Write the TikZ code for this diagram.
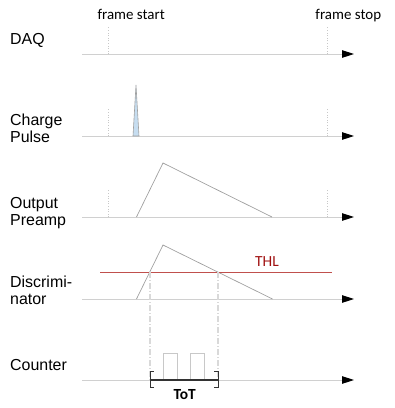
\documentclass[tikz,border=0pt]{standalone}
\usepackage{fontspec}
\setmainfont{Liberation Sans}
\newfontfamily\calfont{Carlito}
\usetikzlibrary{arrows.meta}
\definecolor{axisgrey}{HTML}{D0D0D0}
\definecolor{siggrey}{HTML}{A0A0A0}
\definecolor{dotgrey}{HTML}{C8C8C8}
\definecolor{thlred}{HTML}{C0504D}
\definecolor{thltext}{HTML}{A01010}
\definecolor{pulseblue}{HTML}{C6DDF0}
\begin{document}
\begin{tikzpicture}[x=1bp,y=-1bp,
  rowlabel/.style={anchor=base west,inner sep=0pt,font=\fontsize{16}{17}\selectfont,align=left},
  axisline/.style={draw=axisgrey,line width=0.9bp,-{Triangle[length=12bp,width=7.5bp,fill=black,color=black]}},
  framemark/.style={draw=dotgrey,line width=0.6bp,dotted},
  signal/.style={draw=siggrey,line width=0.7bp},
  guide/.style={draw=axisgrey!80,line width=1.1bp,dash pattern=on 6bp off 2bp on 1bp off 2bp},
  toplabel/.style={anchor=base,inner sep=0pt,font=\calfont\fontsize{15}{17}\selectfont}]
\useasboundingbox (0,0) rectangle (395,408);
% axes
\foreach \n/\y in {daq/54,chg/136,pre/217,dis/299,cnt/380}{
  \coordinate (\n L) at (82,\y);
  \coordinate (\n R) at (354,\y);
  \draw[axisline] (\n L) -- (\n R);
}
% row labels (base anchor = baseline of the last line)
\node[rowlabel] (ldaq) at (10,44.8) {DAQ};
\node[rowlabel] (lchg) at (10,142.7) {Charge\\Pulse};
\node[rowlabel] (lpre) at (10,225.3) {Output\\Preamp};
\node[rowlabel] (ldis) at (10,304.7) {Discrimi-\\nator};
\node[rowlabel] (lcnt) at (10,370) {Counter};
% frame labels
\node[toplabel] (fstart) at (131.2,19) {frame start};
\node[toplabel] (fstop) at (348.3,19) {frame stop};
% frame marks
\foreach \y in {54,136,217}{
  \draw[framemark] (108,\y) -- (108,\y-27);
  \draw[framemark] (327,\y) -- (327,\y-27);
}
% charge pulse
\coordinate (cp1) at (133,136);
\coordinate (cp2) at (136,85);
\coordinate (cp3) at (139,136);
\filldraw[fill=pulseblue,draw=siggrey,line width=0.6bp] (cp1) -- (cp2) -- (cp3) -- cycle;
% preamp
\coordinate (p1) at (136.5,217);
\coordinate (p2) at (163,163);
\coordinate (p3) at (272,217);
\draw[signal] (p1) -- (p2) -- (p3);
% discriminator
\coordinate (d1) at (136.5,299);
\coordinate (d2) at (163,245);
\coordinate (d3) at (272.5,299);
\draw[signal] (d1) -- (d2) -- (d3);
% THL
\coordinate (tL) at (100,272.3);
\coordinate (tR) at (331.5,272.3);
\draw[thlred,line width=1bp] (tL) -- (tR);
\node[toplabel,text=thltext,font=\calfont\fontsize{15.5}{17}\selectfont] (thl) at (267,266) {THL};
% crossings
\coordinate (c1) at (150,272.3);
\coordinate (c2) at (218,272.3);
\coordinate (b1) at (150,380);
\coordinate (b2) at (218,380);
\draw[guide] (c1) -- (b1);
\draw[guide] (c2) -- (b2);
% counter pulses
\draw[draw=dotgrey,line width=0.8bp] (163.3,380) -- (163.3,353.3) -- (177.3,353.3) -- (177.3,380);
\draw[draw=dotgrey,line width=0.8bp] (190.7,380) -- (190.7,353.3) -- (204.3,353.3) -- (204.3,380);
% ToT bracket
\draw[black!80,line width=1.6bp] (b1) -- (b2);
\draw[black!80,line width=1bp] ([xshift=4bp,yshift=-7.5bp]b1) -- ([yshift=-7.5bp]b1) -- ([yshift=8.5bp]b1) -- ([xshift=4bp,yshift=8.5bp]b1);
\draw[black!80,line width=1bp] ([xshift=-4bp,yshift=-7.5bp]b2) -- ([yshift=-7.5bp]b2) -- ([yshift=8.5bp]b2) -- ([xshift=-4bp,yshift=8.5bp]b2);
\node[toplabel,font=\calfont\bfseries\fontsize{15.5}{17}\selectfont] (tot) at (184.7,399.3) {ToT};
\end{tikzpicture}
\end{document}
